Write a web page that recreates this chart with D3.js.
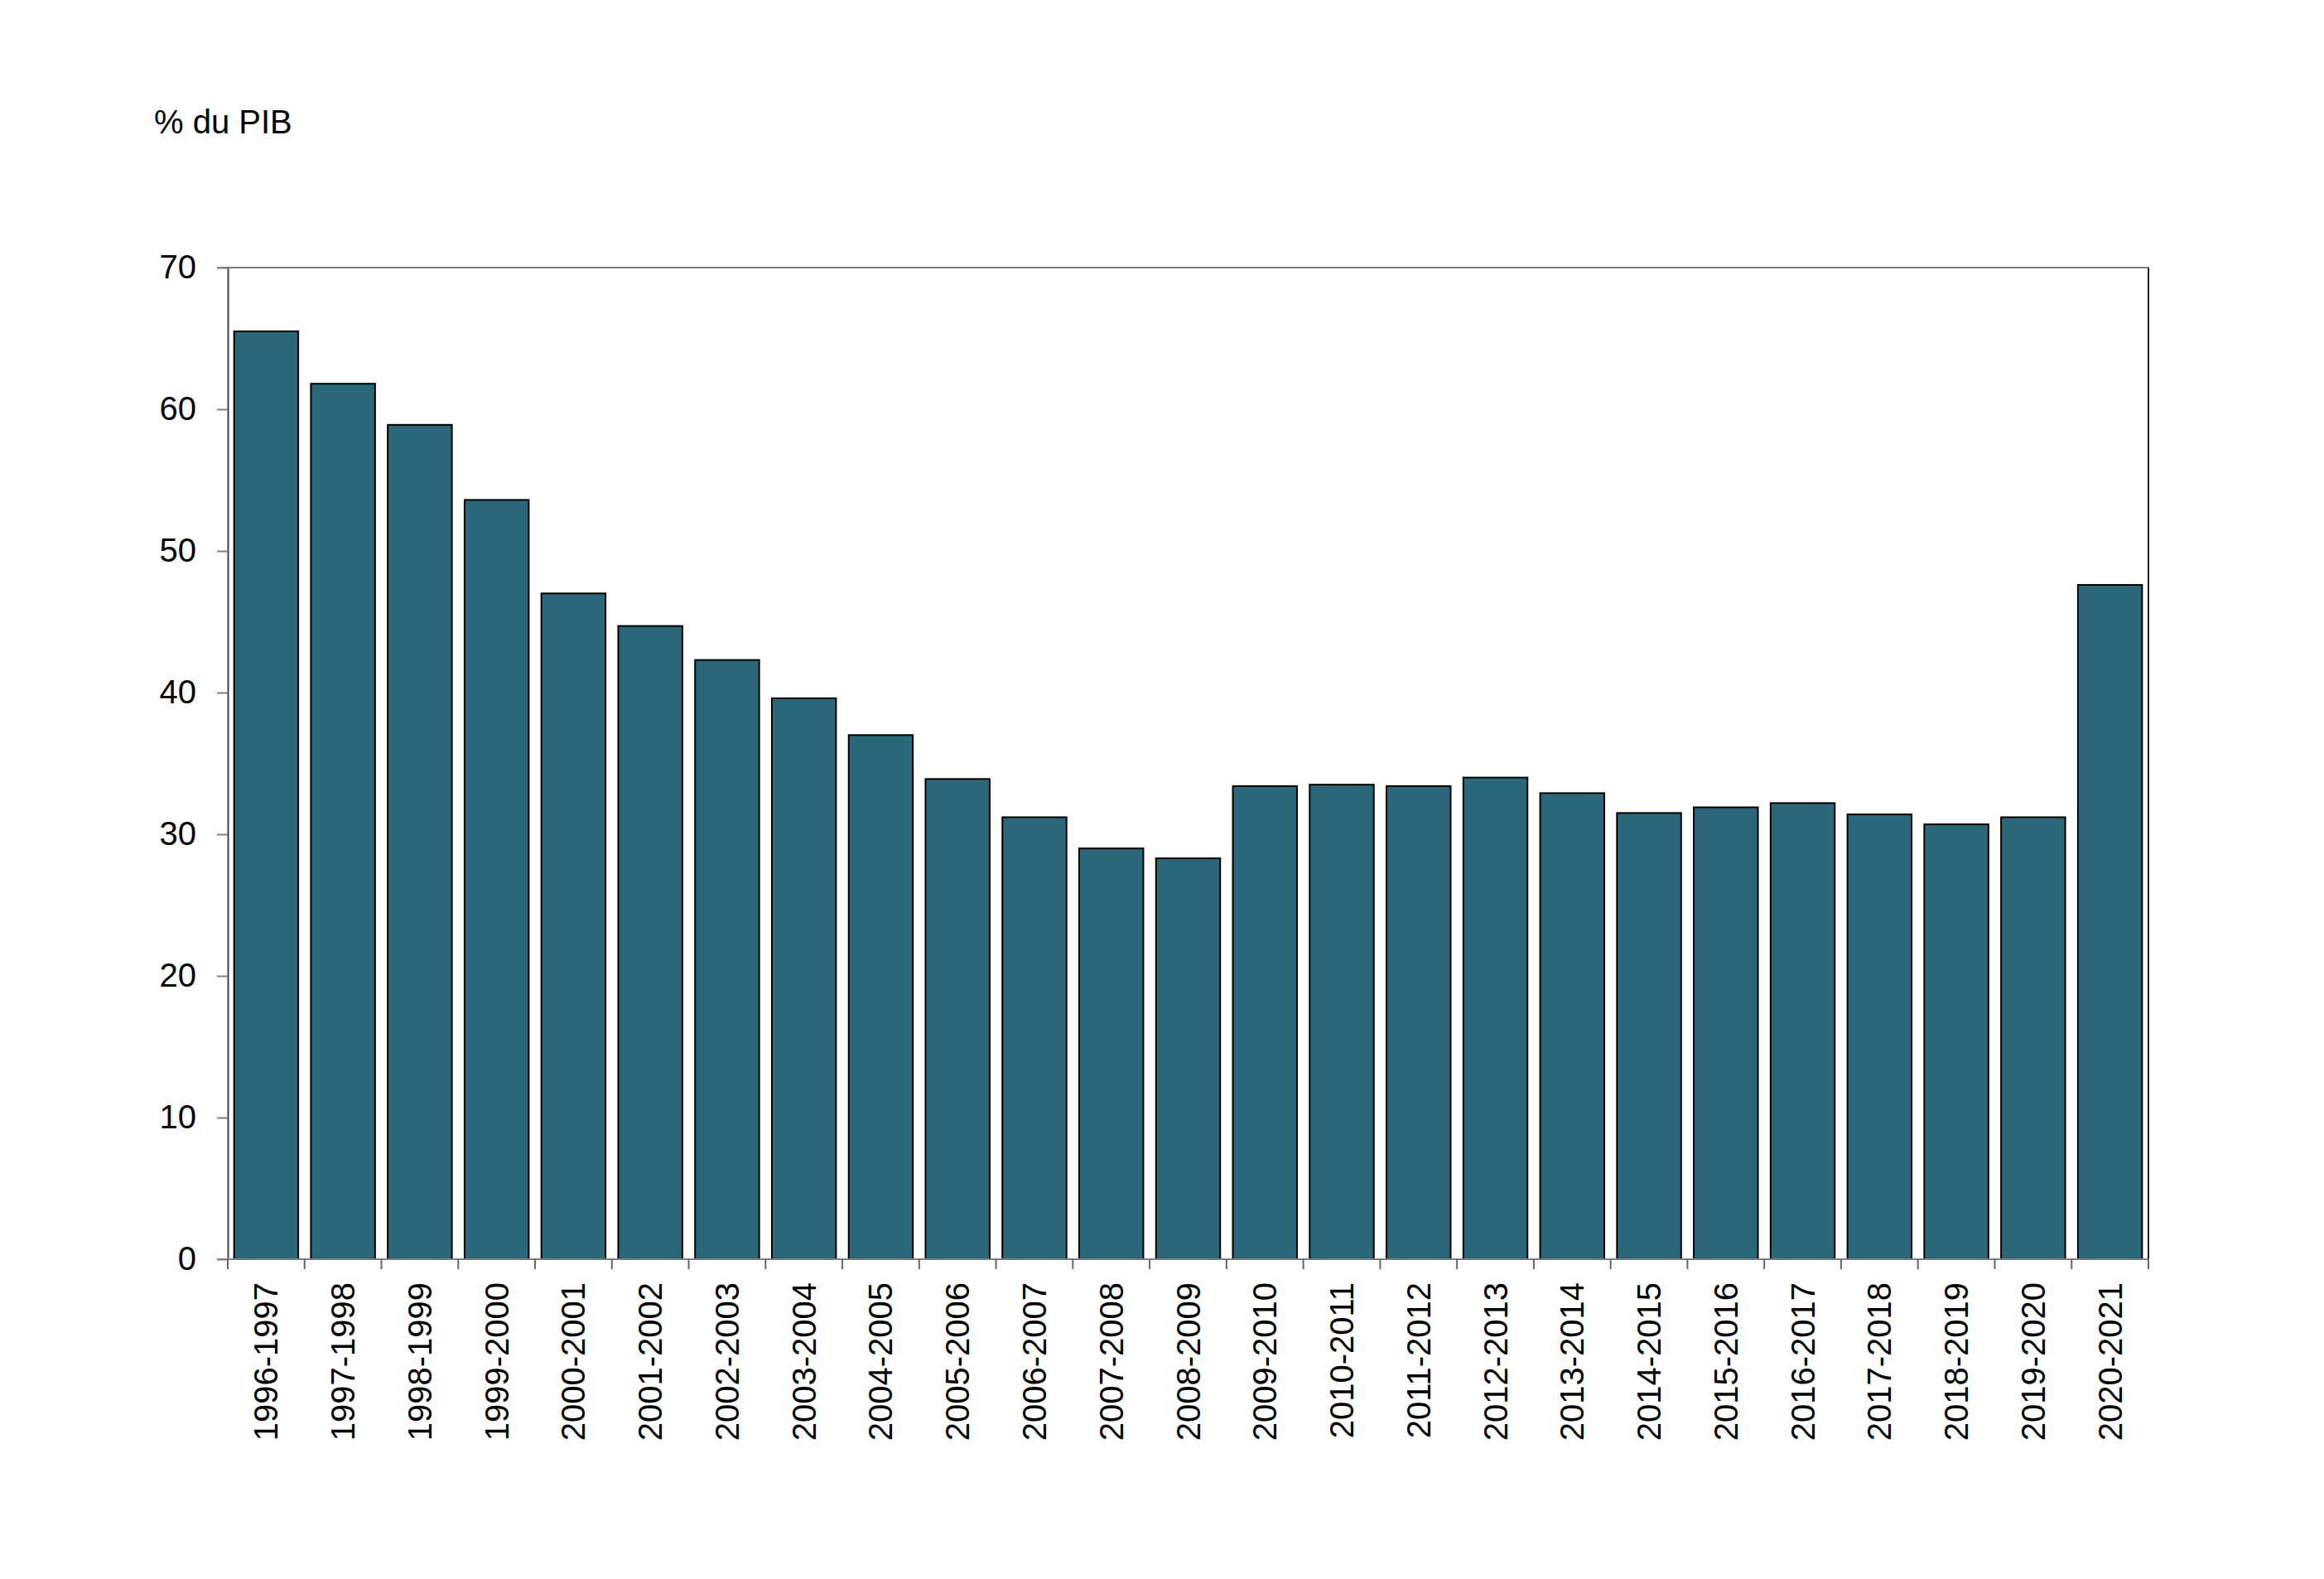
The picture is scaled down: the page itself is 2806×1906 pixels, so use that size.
<!DOCTYPE html>
<html>
<head>
<meta charset="utf-8">
<script src="https://cdn.jsdelivr.net/npm/d3@7"></script>
<style>
  body { margin: 0; background: #fff; }
  text { font-family: "Liberation Sans", Arial, sans-serif; fill: #000; }
</style>
</head>
<body>
<div id="plotDiv"></div>
<script>
var years = ["1996-1997", "1997-1998", "1998-1999", "1999-2000", "2000-2001", "2001-2002",
    "2002-2003", "2003-2004", "2004-2005", "2005-2006", "2006-2007", "2007-2008", "2008-2009",
    "2009-2010", "2010-2011", "2011-2012", "2012-2013", "2013-2014", "2014-2015", "2015-2016",
    "2016-2017", "2017-2018", "2018-2019", "2019-2020", "2020-2021"];
var values = [65.5, 61.8, 58.9, 53.6, 47.0, 44.7, 42.3, 39.6, 37.0, 33.9, 31.2, 29.0, 28.3,
    33.4, 33.5, 33.4, 34.0, 32.9, 31.5, 31.9, 32.2, 31.4, 30.7, 31.2, 47.6];
var yTicks = [0, 10, 20, 30, 40, 50, 60, 70];
var unitLabel = "% du PIB";

function drawData() {
    var margin = { top: 323, right: 212, bottom: 386, left: 275 };
    var width = 2806 - margin.left - margin.right;
    var height = 1906 - margin.top - margin.bottom;

    var svg = d3.select("#plotDiv").append("svg")
        .attr("width", 2806)
        .attr("height", 1906);

    svg.append("text").attr("x", 186).attr("y", 161)
        .style("font-size", "40px").text(unitLabel);

    var g = svg.append("g").attr("transform", "translate(" + margin.left + "," + margin.top + ")");

    var xScale = d3.scaleBand().domain(years).range([0, width])
        .paddingInner(0.165).paddingOuter(0.0825);
    var yScale = d3.scaleLinear().domain([0, 70]).range([height, 0]);

    // bars
    g.selectAll("rect.bar").data(values).enter().append("rect")
        .attr("class", "bar")
        .attr("x", function (d, i) { return xScale(years[i]); })
        .attr("y", function (d) { return yScale(d); })
        .attr("width", xScale.bandwidth())
        .attr("height", function (d) { return height - yScale(d); })
        .attr("fill", "#296779")
        .attr("stroke", "#000")
        .attr("stroke-width", 2);

    // top and right frame
    g.append("line").attr("x1", -13).attr("x2", width).attr("y1", 0).attr("y2", 0)
        .attr("stroke", "#808080").attr("stroke-width", 2);
    g.append("line").attr("x1", width).attr("x2", width).attr("y1", 0).attr("y2", height + 12)
        .attr("stroke", "#222").attr("stroke-width", 2);

    // y axis
    var yAxis = d3.axisLeft(yScale).tickValues(yTicks).tickSize(13).tickSizeOuter(0).tickPadding(25);
    var ya = g.append("g").call(yAxis);
    ya.select(".domain").attr("stroke", "#444").attr("stroke-width", 2);
    ya.selectAll(".tick line").attr("stroke", "#808080").attr("stroke-width", 2);
    ya.selectAll(".tick text").style("font-size", "40px").attr("fill", "#000")
        .attr("font-family", null);

    // x axis: ticks at category boundaries
    var xa = g.append("g").attr("transform", "translate(0," + height + ")");
    xa.append("line").attr("x1", -13).attr("x2", width).attr("y1", 0).attr("y2", 0)
        .attr("stroke", "#808080").attr("stroke-width", 2);
    var step = xScale.step();
    xa.selectAll("line.tk").data(d3.range(years.length + 1)).enter().append("line")
        .attr("class", "tk")
        .attr("x1", function (d) { return d * step; })
        .attr("x2", function (d) { return d * step; })
        .attr("y1", 0).attr("y2", 12)
        .attr("stroke", "#666").attr("stroke-width", 2);
    xa.selectAll("text.lbl").data(years).enter().append("text")
        .attr("class", "lbl")
        .attr("transform", function (d) {
            return "translate(" + (xScale(d) + xScale.bandwidth() / 2) + ",28) rotate(-90)";
        })
        .attr("text-anchor", "end")
        .attr("dy", "0.35em")
        .style("font-size", "40px")
        .text(function (d) { return d; });
}

drawData();
</script>
</body>
</html>
